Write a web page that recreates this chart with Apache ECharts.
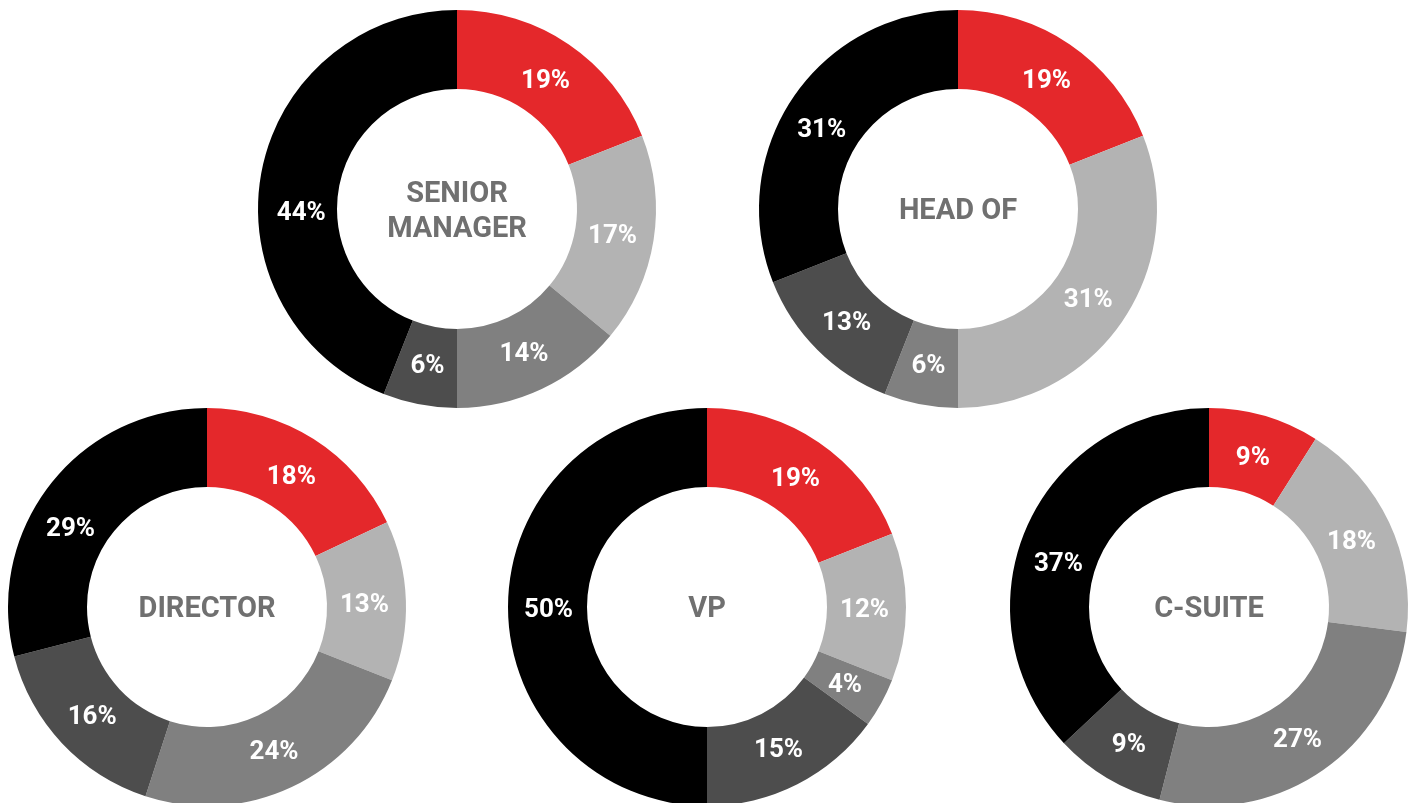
<!DOCTYPE html>
<html>
<head>
<meta charset="utf-8">
<script src="https://cdn.jsdelivr.net/npm/echarts@6/dist/echarts.min.js"></script>
<style>
	html, body { margin: 0; padding: 0; background: #fff; }
	#main { width: 1427px; height: 803px; }
</style>
</head>
<body>
<div id="main"></div>
<script>
// 分类（顺时针，从12点开始）
var segments = ['Red', 'Light grey', 'Mid grey', 'Dark grey', 'Black'];
var segColors = ['#e4282b', '#b3b3b3', '#808080', '#4d4d4d', '#000000'];

// 各职级名称
var roles = ['SENIOR\nMANAGER', 'HEAD OF', 'DIRECTOR', 'VP', 'C-SUITE'];

// 各职级百分比
var seniorManager = [19, 17, 14, 6, 44];
var headOf = [19, 31, 6, 13, 31];
var director = [18, 13, 24, 16, 29];
var vp = [19, 12, 4, 15, 50];
var cSuite = [9, 18, 27, 9, 37];

var values = [seniorManager, headOf, director, vp, cSuite];

// 布局
var centers = [[457, 209], [958, 209], [207, 607], [707, 607], [1209, 607]];
// 黑色扇区标签在原图里被手动挪过
var blackLabelOffset = [[-1, 34], [-6, 10], [-12, 19], [-1, 3], [-6, 20]];

var chart = echarts.init(document.getElementById('main'));

var series = [];
var titles = [];
for (var i = 0; i < roles.length; i++) {
	var ring = [];
	var labels = [];
	for (var k = 0; k < segments.length; k++) {
		ring.push({ name: segments[k], value: values[i][k], itemStyle: { color: segColors[k] } });
		var lb = { name: segments[k], value: values[i][k] };
		if (k == segments.length - 1) {
			lb.label = { offset: blackLabelOffset[i] };
		}
		labels.push(lb);
	}
	// 色环
	series.push({
		type: 'pie',
		radius: [120, 199],
		center: centers[i],
		startAngle: 90,
		clockwise: true,
		silent: true,
		animation: false,
		label: { show: false },
		labelLine: { show: false },
		itemStyle: { borderWidth: 0 },
		data: ring
	});
	// 只放标签的透明环（标签稍微靠内一点）
	series.push({
		type: 'pie',
		radius: [110, 199],
		center: centers[i],
		startAngle: 90,
		clockwise: true,
		silent: true,
		animation: false,
		z: 3,
		label: {
			show: true,
			position: 'inside',
			formatter: '{c}%',
			offset: [0, 3],
			color: '#fff',
			fontFamily: 'Roboto',
			fontWeight: 'bold',
			fontSize: 26
		},
		labelLine: { show: false },
		itemStyle: { color: 'rgba(0,0,0,0)', borderWidth: 0 },
		data: labels
	});
	titles.push({
		text: roles[i],
		left: centers[i][0],
		top: centers[i][1] + 3,
		padding: 0,
		textAlign: 'center',
		textVerticalAlign: 'middle',
		textStyle: {
			color: '#707070',
			fontFamily: 'Roboto',
			fontWeight: 'bold',
			fontSize: 29,
			lineHeight: 35
		}
	});
}

chart.setOption({
	backgroundColor: '#fff',
	title: titles,
	series: series
});
</script>
</body>
</html>
